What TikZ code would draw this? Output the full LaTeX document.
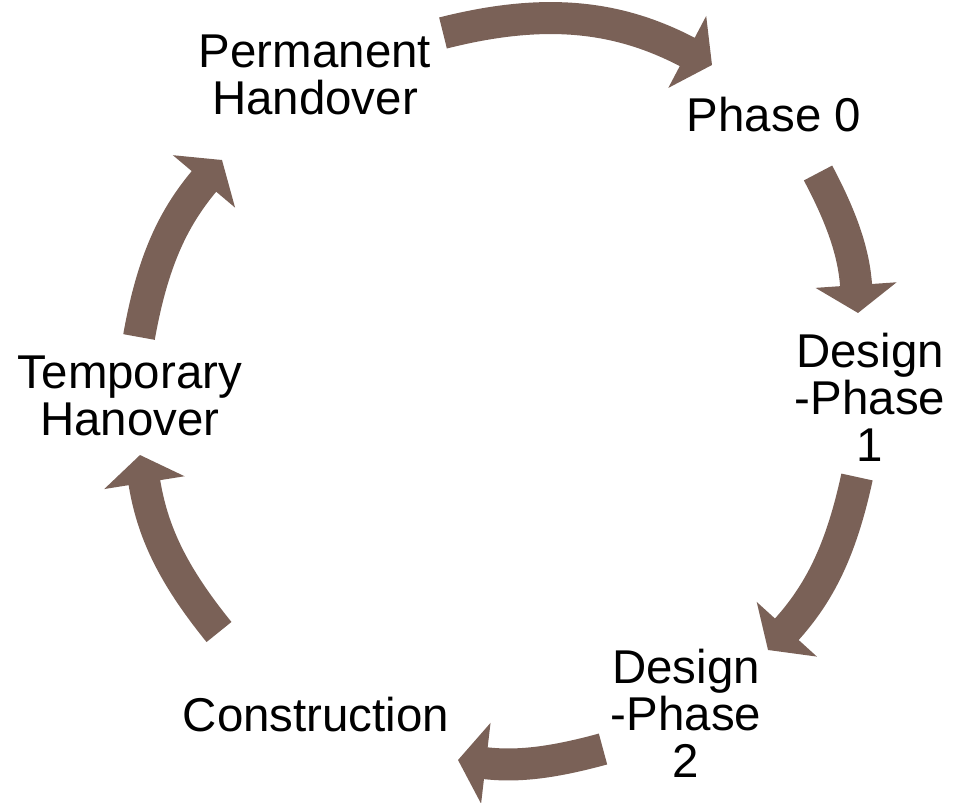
\documentclass[tikz,border=0pt]{standalone}
\usepackage{fontspec}
\setmainfont{Liberation Sans}
\usetikzlibrary{arrows.meta}
\definecolor{cyclebrown}{RGB}{122,97,87}
\tikzset{
	steplabel/.style={align=center, inner sep=0pt, font=\fontsize{27}{26.8}\selectfont},
	cyclearrow/.style={draw=cyclebrown, line width=0.64cm,
		-{Triangle[length=0.56cm, width=1.6cm, fill=cyclebrown]}},
}
\begin{document}
\begin{tikzpicture}[x=0.02cm, y=0.02cm]
\useasboundingbox (0,0) rectangle (959,802);
% the six steps
\node[steplabel] (perm) at (315,727) {Permanent\\Handover};
\node[steplabel] (ph0)  at (774,687) {Phase 0};
\node[steplabel] (dp1)  at (870,405) {Design\\-Phase\\1};
\node[steplabel] (dp2)  at (686,89)  {Design\\-Phase\\2};
\node[steplabel] (cons) at (316,87)  {Construction};
\node[steplabel] (temp) at (130,406) {Temporary\\Hanover};
% arrow ends
\coordinate (t1) at (443,769); \coordinate (h1) at (712,737);
\coordinate (t2) at (818,629); \coordinate (h2) at (858,489);
\coordinate (t3) at (857,325); \coordinate (h3) at (768,152);
\coordinate (t4) at (603,53);  \coordinate (h4) at (458,42);
\coordinate (t5) at (219,170); \coordinate (h5) at (140,347);
\coordinate (t6) at (139,465); \coordinate (h6) at (222,642);
\foreach \s/\e/\b in {t1/h1/21, t2/h2/12, t3/h3/15, t4/h4/11, t5/h5/15, t6/h6/15}{
	\draw[cyclearrow] (\s) to[bend left=\b] (\e);
}
\end{tikzpicture}
\end{document}
